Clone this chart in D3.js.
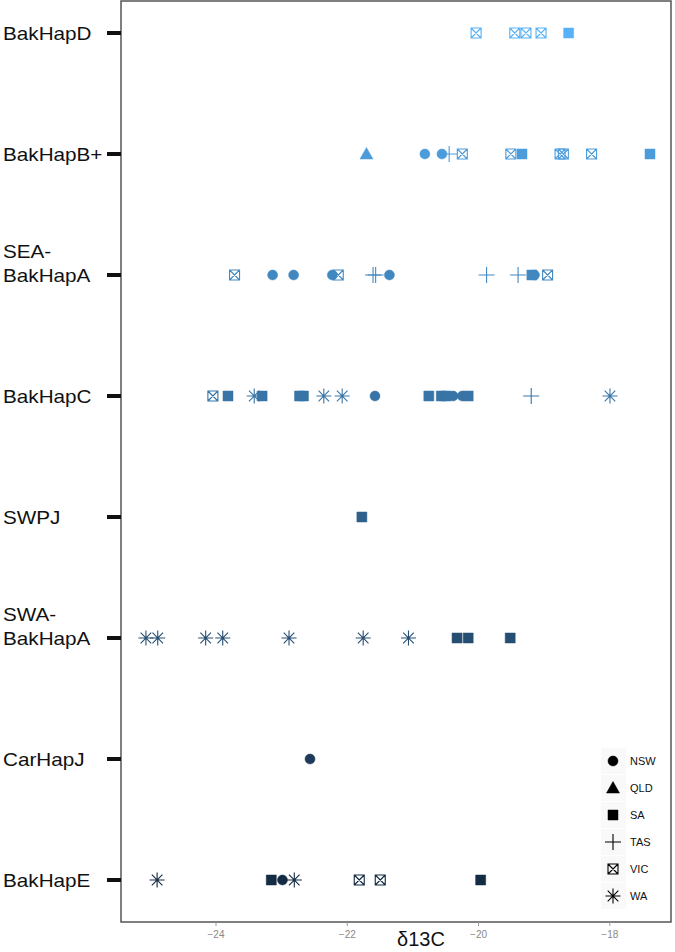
<!DOCTYPE html>
<html><head><meta charset="utf-8">
<script src="https://cdn.jsdelivr.net/npm/d3@7"></script>
<style>html,body{margin:0;padding:0;background:#fff;}</style>
</head><body>
<svg id="c" width="675" height="952"></svg>
<script>
const categories = ["BakHapD","BakHapB+","SEA-BakHapA","BakHapC","SWPJ","SWA-BakHapA","CarHapJ","BakHapE"];
const categoryLabels = [["BakHapD"],["BakHapB+"],["SEA-","BakHapA"],["BakHapC"],["SWPJ"],["SWA-","BakHapA"],["CarHapJ"],["BakHapE"]];
const states = ["NSW","QLD","SA","TAS","VIC","WA"];
const xTicks = [-24,-22,-20,-18];
const ptBakHapD = [["VIC",-20.03],["VIC",-19.44],["VIC",-19.27],["VIC",-19.04],["SA",-18.62]];
const ptBakHapBplus = [["QLD",-21.70],["NSW",-20.81],["NSW",-20.55],["TAS",-20.44],["VIC",-20.24],["VIC",-19.50],["SA",-19.33],["VIC",-18.75],["VIC",-18.70],["VIC",-18.27],["SA",-17.38]];
const ptSEABakHapA = [["VIC",-23.71],["NSW",-23.13],["NSW",-22.81],["NSW",-22.22],["VIC",-22.13],["TAS",-21.60],["TAS",-21.56],["NSW",-21.35],["TAS",-19.87],["TAS",-19.39],["SA",-19.18],["NSW",-19.14],["VIC",-18.94]];
const ptBakHapC = [["VIC",-24.04],["SA",-23.81],["WA",-23.41],["SA",-23.29],["SA",-22.72],["SA",-22.66],["WA",-22.35],["WA",-22.07],["NSW",-21.57],["SA",-20.75],["SA",-20.56],["SA",-20.49],["NSW",-20.38],["NSW",-20.24],["SA",-20.15],["TAS",-19.19],["WA",-17.99]];
const ptSWPJ = [["SA",-21.77]];
const ptSWABakHapA = [["WA",-25.06],["WA",-24.88],["WA",-24.15],["WA",-23.89],["WA",-22.88],["WA",-21.75],["WA",-21.06],["SA",-20.32],["SA",-20.15],["SA",-19.51]];
const ptCarHapJ = [["NSW",-22.56]];
const ptBakHapE = [["WA",-24.89],["SA",-23.15],["NSW",-22.98],["WA",-22.80],["VIC",-21.81],["VIC",-21.49],["SA",-19.96]];
const pointSets = [ptBakHapD, ptBakHapBplus, ptSEABakHapA, ptBakHapC, ptSWPJ, ptSWABakHapA, ptCarHapJ, ptBakHapE];

const svg = d3.select("#c");
const L = 121, R = 671, T = 1, B = 922;
const x = d3.scaleLinear().domain([-25.44, -17.06]).range([L, R]);
const y = d3.scalePoint().domain(categories).range([33, 880]);
const color = d3.scaleLinear().domain([0, categories.length-1]).range(["#56B1F7","#132B43"]).interpolate(d3.interpolateLab);

function shapePath(s){
  switch(s){
    case "NSW": return d3.symbol(d3.symbolCircle, Math.PI*5*5)();
    case "QLD": return "M0,-6.5L6.5,5L-6.5,5Z";
    case "SA": return "M-5,-5H5V5H-5Z";
    case "TAS": return "M-8,0H8M0,-8V8";
    case "VIC": return "M-5,-5H5V5H-5ZM-5,-5L5,5M5,-5L-5,5";
    case "WA": return "M-7.5,0H7.5M0,-7.5V7.5M-5.3,-5.3L5.3,5.3M5.3,-5.3L-5.3,5.3";
  }
}
const filled = s => s==="NSW"||s==="QLD"||s==="SA";
function drawShape(g, s, col){
  g.append("path").attr("d", shapePath(s))
    .attr("fill", filled(s) ? col : "none")
    .attr("stroke", col)
    .attr("stroke-width", filled(s) ? 0.5 : 1.1);
}

// panel border
svg.append("rect").attr("x",L).attr("y",T).attr("width",R-L).attr("height",B-T)
  .attr("fill","none").attr("stroke","#555").attr("stroke-width",1.5);

// y ticks and labels
categories.forEach((c,i)=>{
  const yy = y(c);
  svg.append("line").attr("x1",107).attr("x2",L).attr("y1",yy).attr("y2",yy)
    .attr("stroke","#111").attr("stroke-width",4);
  const lines = categoryLabels[i];
  lines.forEach((t,j)=>{
    const by = yy + 6.5 - (lines.length-1-j)*24;
    svg.append("text").attr("transform",`translate(3,${by}) scale(1.15,1)`)
      .attr("font-family","Liberation Sans, Arial, sans-serif").attr("font-size",18)
      .attr("fill","#111").text(t);
  });
});

// x axis
const xAxis = svg.append("g").attr("transform",`translate(0,${B})`)
  .call(d3.axisBottom(x).tickValues(xTicks).tickSize(4).tickPadding(5).tickFormat(d=>"\u2212"+Math.abs(d)));
xAxis.select(".domain").remove();
xAxis.selectAll("line").attr("stroke","#999");
xAxis.selectAll("text").attr("fill","#888").attr("font-size",10).attr("font-family","Liberation Sans, Arial, sans-serif");

svg.append("text").attr("x",421).attr("y",946).attr("text-anchor","middle")
  .attr("font-family","Liberation Sans, Arial, sans-serif").attr("font-size",20).attr("fill","#111")
  .text("\u03B413C");

// points
pointSets.forEach((pts,i)=>{
  const col = color(i);
  pts.forEach(([s,v])=>{
    const g = svg.append("g").attr("transform",`translate(${x(v)},${y(categories[i])})`);
    drawShape(g, s, col);
  });
});

// legend
const ly = d3.scalePoint().domain(states).range([761, 896]);
states.forEach(s=>{
  const yy = ly(s);
  svg.append("rect").attr("x",601).attr("y",yy-13).attr("width",25).attr("height",26).attr("fill","#f9f9f9");
  const g = svg.append("g").attr("transform",`translate(613,${yy})`);
  drawShape(g, s, "#000");
  svg.append("text").attr("x",630).attr("y",yy+4).attr("font-family","Liberation Sans, Arial, sans-serif")
    .attr("font-size",11).attr("fill","#111").text(s);
});
</script>
</body></html>
